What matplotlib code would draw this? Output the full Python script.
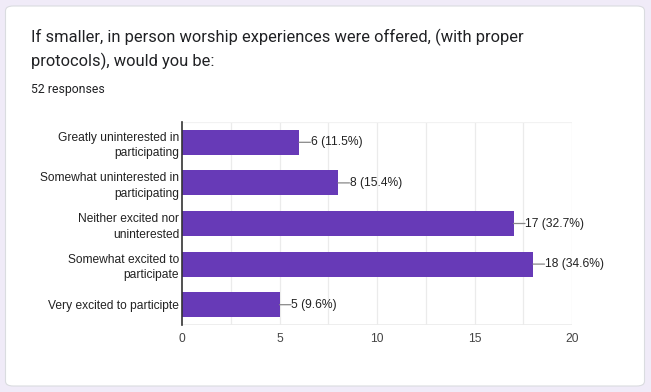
import matplotlib.pyplot as plt
from matplotlib.patches import FancyBboxPatch

# Survey data
question = "If smaller, in person worship experiences were offered, (with proper\nprotocols), would you be:"
responses_text = "52 responses"
categories = [
    "Greatly uninterested in\nparticipating",
    "Somewhat uninterested in\nparticipating",
    "Neither excited nor\nuninterested",
    "Somewhat excited to\nparticipate",
    "Very excited to participte",
]
counts = [6, 8, 17, 18, 5]
percents = [11.5, 15.4, 32.7, 34.6, 9.6]
x_ticks = [0, 5, 10, 15, 20]

bar_color = "#673ab7"
text_color = "#222222"
fs = 8.65  # ~12px Arial

fig = plt.figure(figsize=(6.51, 3.92), dpi=100)
fig.patch.set_facecolor("#f0ebf8")

# white card behind everything
card = FancyBboxPatch((5.5 / 651, 6 / 392), 639 / 651, 380 / 392,
                      boxstyle="round,pad=0,rounding_size=0.012",
                      transform=fig.transFigure, facecolor="white",
                      edgecolor="#dadce0", linewidth=0.8, zorder=-10)
fig.patches.append(card)

# multi-line text with va=baseline anchors on the last line
fig.text(31 / 651, 1 - 66 / 392, question, fontsize=11.85, family="Roboto",
         color="#202124", va="baseline", ha="left", linespacing=1.5)
fig.text(31 / 651, 1 - 93 / 392, responses_text, fontsize=8.8, family="Roboto",
         color="#202124", va="baseline", ha="left")

ax = fig.add_axes([182 / 651, 1 - 325 / 392, 390 / 651, 203 / 392])
ax.set_zorder(1)
ax.set_facecolor("none")

ypos = list(range(len(categories)))
ax.barh(ypos, counts, height=0.62, color=bar_color, zorder=3)

for y, c, p in zip(ypos, counts, percents):
    ax.annotate("", xy=(c, y), xytext=(8.3, 0), textcoords="offset points",
                arrowprops=dict(arrowstyle="-", color="#888888", lw=0.9,
                                shrinkA=0, shrinkB=0))
    ax.annotate(f"{c} ({p}%)", xy=(c, y), xytext=(8.6, 0),
                textcoords="offset points", va="center", ha="left",
                fontsize=fs, family="Liberation Sans", color=text_color)

ax.set_xlim(0, 20)
ax.set_ylim(len(categories) - 0.5, -0.5)

# vertical gridlines every 2.5
for gx in [2.5 * k for k in range(1, 9)]:
    ax.axvline(gx, color="#ebebeb", lw=0.9, zorder=1)
ax.axhline(len(categories) - 0.5, color="#ebebeb", lw=1.2, zorder=1)
ax.axhline(-0.5, color="#f2f2f2", lw=0.9, zorder=1)

for s in ["top", "right", "bottom"]:
    ax.spines[s].set_visible(False)
ax.spines["left"].set_color("#333333")
ax.spines["left"].set_linewidth(1.2)
ax.spines["left"].set_zorder(4)

ax.set_yticks(ypos)
ax.set_yticklabels(categories, fontsize=fs, family="Liberation Sans",
                   color=text_color, linespacing=1.4)
ax.set_xticks(x_ticks)
ax.set_xticklabels([str(t) for t in x_ticks], fontsize=fs,
                   family="Liberation Sans", color="#444444")
ax.tick_params(axis="both", length=0)
ax.tick_params(axis="y", pad=2)
ax.tick_params(axis="x", pad=6)

fig.savefig("out.png", dpi=100, facecolor=fig.get_facecolor())
